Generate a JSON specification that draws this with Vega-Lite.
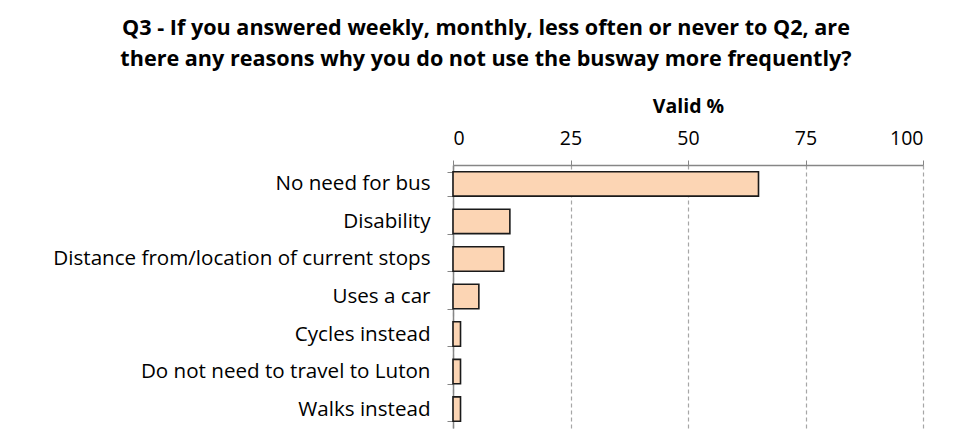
{
  "$schema": "https://vega.github.io/schema/vega-lite/v6.json",
  "autosize": {"type": "none"},
  "width": 470,
  "height": 263,
  "padding": {"left": 453, "top": 165, "right": 48, "bottom": 1},
  "background": "white",
  "title": {
    "text": ["Q3 - If you answered weekly, monthly, less often or never to Q2, are", "there any reasons why you do not use the busway more frequently?"],
    "anchor": "middle",
    "frame": "group",
    "dx": -202,
    "font": "Open Sans",
    "fontSize": 21.6,
    "fontWeight": "bold",
    "lineHeight": 31,
    "color": "black",
    "offset": 25
  },
  "data": {
    "values": [
      {"reason": "No need for bus", "pct": 65.0},
      {"reason": "Disability", "pct": 12.1},
      {"reason": "Distance from/location of current stops", "pct": 10.8},
      {"reason": "Uses a car", "pct": 5.5},
      {"reason": "Cycles instead", "pct": 1.6},
      {"reason": "Do not need to travel to Luton", "pct": 1.6},
      {"reason": "Walks instead", "pct": 1.6}
    ]
  },
  "mark": {"type": "bar", "fill": "#FCD5B4", "stroke": "#1a1a1a", "strokeWidth": 1.6},
  "encoding": {
    "y": {
      "field": "reason",
      "type": "nominal",
      "sort": null,
      "scale": {"paddingInner": 0.35, "paddingOuter": 0.18},
      "axis": {
        "title": null,
        "labelFont": "Open Sans",
        "labelFontSize": 20.6,
        "labelColor": "black",
        "labelPadding": 17,
        "tickBand": "extent",
        "tickColor": "#868686",
        "tickSize": 6,
        "domainColor": "#868686",
        "domainWidth": 1.5,
        "grid": false,
        "labelLimit": 500
      }
    },
    "x": {
      "field": "pct",
      "type": "quantitative",
      "scale": {"domain": [0, 100], "nice": false},
      "axis": {
        "orient": "top",
        "title": "Valid %",
        "titleFont": "Open Sans",
        "titleFontSize": 19.5,
        "titleFontWeight": "bold",
        "titleColor": "black",
        "titlePadding": 12,
        "values": [0, 25, 50, 75, 100],
        "labelFont": "Open Sans",
        "labelFontSize": 19.5,
        "labelColor": "black",
        "labelPadding": 12,
        "tickColor": "#868686",
        "tickSize": 5,
        "domainColor": "#868686",
        "domainWidth": 1.5,
        "grid": true,
        "gridColor": "#a6a6a6",
        "gridDash": [4, 3],
        "gridWidth": 1.2
      }
    }
  },
  "config": {"view": {"stroke": null}}
}
